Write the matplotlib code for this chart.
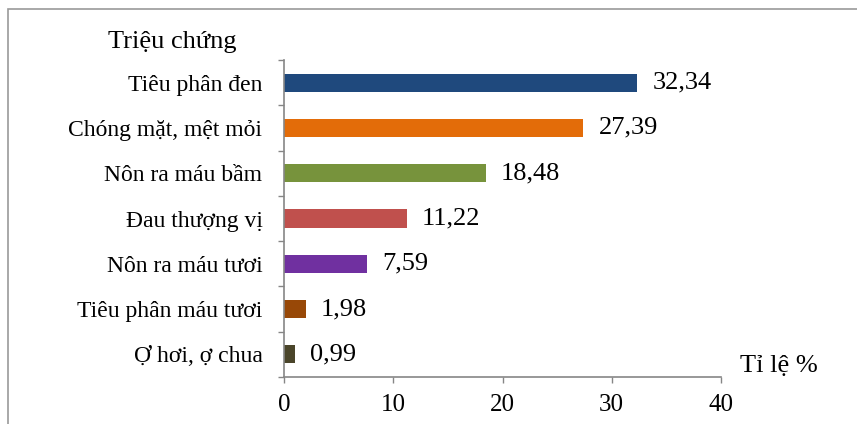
import matplotlib
matplotlib.use("Agg")
import matplotlib.pyplot as plt
from matplotlib.patches import Rectangle

categories = ["Tiêu phân đen", "Chóng mặt, mệt mỏi", "Nôn ra máu bầm", "Đau thượng vị",
              "Nôn ra máu tươi", "Tiêu phân máu tươi", "Ợ hơi, ợ chua"]
values = [32.34, 27.39, 18.48, 11.22, 7.59, 1.98, 0.99]
labels = ["32,34", "27,39", "18,48", "11,22", "7,59", "1,98", "0,99"]
colors = ["#1F497D", "#E36C09", "#77933C", "#C0504D", "#7030A0", "#984807", "#4A452A"]
xticks = [0, 10, 20, 30, 40]

plt.rcParams['font.family'] = ['Liberation Serif', 'DejaVu Serif']

fig = plt.figure(figsize=(8.57, 4.24), dpi=100)
ax = fig.add_axes([284/857, 1-377/424, (721-284)/857, (377-60)/424])

n = len(categories)
ypos = list(range(n))[::-1]
ax.barh(ypos, values, height=0.4, color=colors)
ax.set_ylim(-0.5, n-0.5)
ax.set_xlim(0, 40)

for y, v, lab in zip(ypos, values, labels):
    ax.annotate(lab, (v, y), xytext=(11, 0), textcoords='offset points',
                va='center', ha='left', fontsize=19)

ax.set_yticks(ypos)
ax.set_yticklabels(categories, fontsize=17)
ax.set_yticks([i - 0.5 for i in range(n + 1)], minor=True)
ax.tick_params(axis='y', which='major', length=0, pad=15.5)
ax.tick_params(axis='y', which='minor', length=4.5, width=1, color='#868686', direction='out')
ax.set_xticks(xticks)
ax.set_xticklabels([str(t) for t in xticks], fontsize=18)
ax.tick_params(axis='x', length=4.5, width=1, color='#868686', direction='out', pad=8)

for s in ['top', 'right']:
    ax.spines[s].set_visible(False)
for s in ['left', 'bottom']:
    ax.spines[s].set_color('#868686')
    ax.spines[s].set_linewidth(1.2)

fig.text(108/857, 1-42/424, "Triệu chứng", fontsize=19, ha='left', va='center')
fig.text(740/857, 1-366/424, "Tỉ lệ %", fontsize=19, ha='left', va='center')

fig.patches.append(Rectangle((8/857, -0.1), 1.2, 1 - 9/424 + 0.1, transform=fig.transFigure,
                             fill=False, edgecolor='#9a9a9a', linewidth=1.2))

fig.savefig("out.png", dpi=100)
